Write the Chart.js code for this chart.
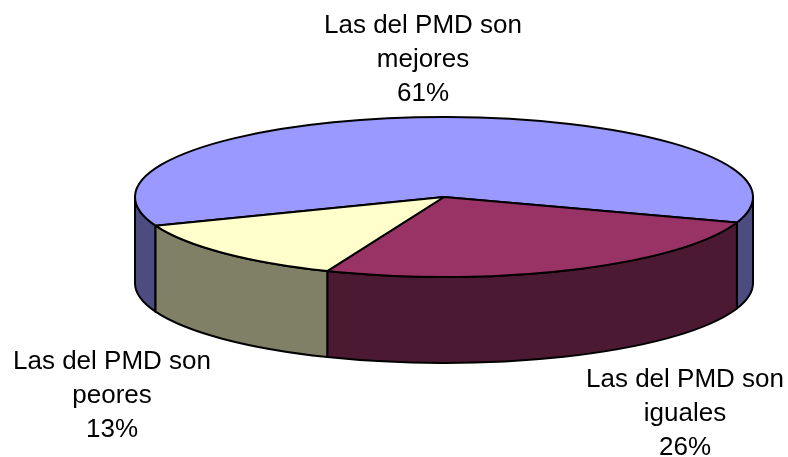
<!DOCTYPE html>
<html>
<head>
<meta charset="utf-8">
<script src="https://cdn.jsdelivr.net/npm/chart.js@4"></script>
<style>
  body { margin: 0; background: #fff; }
  #wrap { width: 788px; height: 457px; }
</style>
</head>
<body>
<div id="wrap"><canvas id="myChart" width="788" height="457"></canvas></div>
<script>
const categories = [
  ['Las del PMD son', 'mejores'],
  ['Las del PMD son', 'iguales'],
  ['Las del PMD son', 'peores']
];
const values = [61, 26, 13];
const topColors = ['#9999FF', '#993366', '#FFFFCC'];
const sideColors = ['#4C4C80', '#4C1933', '#808066'];
// label anchor: center x, baseline of first line
const labelPos = [[423, 33], [685, 387], [112, 369]];

const DEPTH = 86;

const pie3d = {
  id: 'pie3d',
  beforeDatasetsDraw(chart) {
    const ctx = chart.ctx;
    const a = chart.chartArea;
    const cx = (a.left + a.right) / 2;
    const rx = (a.right - a.left) / 2;
    const ry = (a.bottom - a.top - DEPTH) / 2;
    const cy = a.top + ry;
    const arcs = chart.getDatasetMeta(0).data;

    ctx.save();
    ctx.lineWidth = 2;
    ctx.strokeStyle = '#000';
    ctx.lineJoin = 'round';

    // outer walls (front half only)
    arcs.forEach((arc, i) => {
      const s = arc.startAngle, e = arc.endAngle;
      for (let k = -1; k <= 2; k++) {
        const lo = Math.max(s, 2 * Math.PI * k);
        const hi = Math.min(e, 2 * Math.PI * k + Math.PI);
        if (hi <= lo) continue;
        ctx.beginPath();
        ctx.ellipse(cx, cy, rx, ry, 0, lo, hi);
        ctx.ellipse(cx, cy + DEPTH, rx, ry, 0, hi, lo, true);
        ctx.closePath();
        ctx.fillStyle = sideColors[i];
        ctx.fill();
        ctx.stroke();
      }
    });

    // top faces
    arcs.forEach((arc, i) => {
      ctx.beginPath();
      ctx.moveTo(cx, cy);
      ctx.ellipse(cx, cy, rx, ry, 0, arc.startAngle, arc.endAngle);
      ctx.closePath();
      ctx.fillStyle = topColors[i];
      ctx.fill();
      ctx.stroke();
    });
    ctx.restore();
    return false;
  },
  afterDraw(chart) {
    const ctx = chart.ctx;
    const total = values.reduce((p, v) => p + v, 0);
    ctx.save();
    ctx.fillStyle = '#000';
    ctx.font = '26px "Liberation Sans", Arial, sans-serif';
    ctx.textAlign = 'center';
    ctx.textBaseline = 'alphabetic';
    categories.forEach((lines, i) => {
      const all = lines.concat([Math.round(values[i] / total * 100) + '%']);
      const [x, y] = labelPos[i];
      all.forEach((t, j) => ctx.fillText(t, x, y + j * 34));
    });
    ctx.restore();
  }
};

const ctx = document.getElementById('myChart').getContext('2d');
new Chart(ctx, {
  type: 'pie',
  data: {
    labels: categories.map(l => l.join(' ')),
    datasets: [{
      data: values,
      backgroundColor: topColors,
      borderWidth: 0
    }]
  },
  options: {
    responsive: false,
    animation: false,
    rotation: 249,
    layout: { padding: { left: 135, right: 35, top: 117, bottom: 94 } },
    plugins: {
      legend: { display: false },
      tooltip: { enabled: false }
    }
  },
  plugins: [pie3d]
});
</script>
</body>
</html>
